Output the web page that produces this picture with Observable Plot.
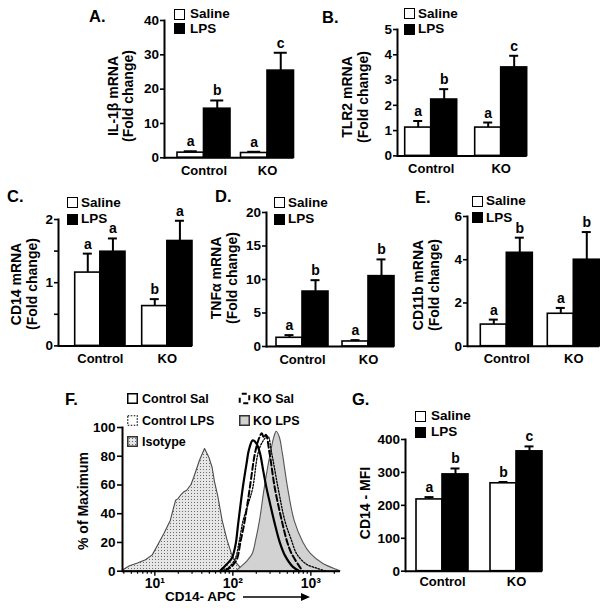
<!DOCTYPE html>
<html><head><meta charset="utf-8">
<script src="https://cdn.jsdelivr.net/npm/d3@7"></script>
<script src="https://cdn.jsdelivr.net/npm/@observablehq/plot@0.6"></script>
<style>
html,body{margin:0;padding:0;background:#fff;}
#fig{position:relative;width:600px;height:611px;overflow:hidden;font-family:"Liberation Sans",Arial,sans-serif;font-weight:bold;color:#000;}
#fig svg.pp{position:absolute;overflow:visible;background:transparent;}
.lbl{position:absolute;white-space:pre;font-weight:bold;line-height:1;}
.sw{position:absolute;box-sizing:border-box;}
</style>
</head><body>
<svg width="0" height="0" style="position:absolute">
 <defs>
  <pattern id="stip" width="3" height="3" patternUnits="userSpaceOnUse">
   <rect width="3" height="3" fill="#e6e6e6"/>
   <rect width="1" height="1" fill="#6a6a6a"/>
  </pattern>
 </defs>
</svg>
<div id="fig"></div>
<script>
// ---------------- DATA ----------------
const groups = ["Control", "KO"];

// A. IL-1β
const il1bSal = [1.5, 1.4], il1bSalSem = [0.4, 0.35];
const il1bLps = [14.3, 25.4], il1bLpsSem = [2.4, 5.2];
const il1bLetters = ["a", "b", "a", "c"];
const il1bTicks = [0, 10, 20, 30, 40];
// B. TLR2
const tlr2Sal = [1.12, 1.12], tlr2SalSem = [0.26, 0.2];
const tlr2Lps = [2.23, 3.5], tlr2LpsSem = [0.41, 0.46];
const tlr2Letters = ["a", "b", "a", "c"];
const tlr2Ticks = [0, 1, 2, 3, 4, 5];
// C. CD14
const cd14Sal = [1.16, 0.63], cd14SalSem = [0.3, 0.11];
const cd14Lps = [1.49, 1.66], cd14LpsSem = [0.21, 0.32];
const cd14Letters = ["a", "a", "b", "a"];
const cd14Ticks = [0, 0.5, 1, 1.5, 2];
const cd14TickLabels = ["0", "", "1", "", "2"];
// D. TNFα
const tnfSal = [1.3, 0.75], tnfSalSem = [0.4, 0.2];
const tnfLps = [8.2, 10.5], tnfLpsSem = [1.7, 2.5];
const tnfLetters = ["a", "b", "a", "b"];
const tnfTicks = [0, 5, 10, 15, 20];
// E. CD11b
const cd11bSal = [1.0, 1.5], cd11bSalSem = [0.23, 0.27];
const cd11bLps = [4.32, 4.0], cd11bLpsSem = [0.7, 1.28];
const cd11bLetters = ["a", "b", "a", "b"];
const cd11bTicks = [0, 2, 4, 6];
// G. CD14 MFI
const mfiSal = [218, 267], mfiSalSem = [7, 4];
const mfiLps = [294, 364], mfiLpsSem = [18, 15];
const mfiLetters = ["a", "b", "b", "c"];
const mfiTicks = [0, 100, 200, 300, 400];

// F. flow histograms (CD14-APC intensity, % of maximum)
const isoX = [3.9, 4.8, 6.2, 7.7, 9.4, 11.3, 13.3, 16, 18.7, 20, 22, 24, 26, 29.5, 32, 38, 44, 50, 55, 59, 65, 74, 85, 97, 110, 123, 135];
const isoY = [0.5, 3.5, 5.5, 7.6, 11, 19, 26, 35, 49, 50, 53, 55, 56, 60, 65, 77, 85, 79, 72, 62, 52, 35, 22, 12, 6, 3, 0];
const ctrlSalX = [68, 84, 97, 108, 117, 134, 151, 160, 180, 200, 223, 245, 270, 300, 345, 400, 465, 590, 720];
const ctrlSalY = [0, 5, 9, 18, 33, 58, 76, 84, 91, 89, 82, 70, 58, 47, 33, 20, 11, 3, 0];
const ctrlLpsX = [68, 85, 106, 120, 135, 158, 180, 210, 240, 280, 315, 380, 465, 560, 660, 870, 1200, 1590];
const ctrlLpsY = [0, 2, 8, 20, 35, 47, 58, 82, 90, 94, 82, 58, 35, 22, 12, 5, 2, 0];
const koSalX = [79, 95, 112, 125, 142, 165, 192, 215, 235, 250, 265, 296, 345, 425, 500, 570, 720, 790];
const koSalY = [0, 3, 8, 20, 35, 58, 82, 92, 96, 93, 95, 82, 58, 35, 20, 12, 3, 0];
const koLpsX = [112, 130, 155, 180, 200, 223, 257, 307, 340, 365, 400, 437, 510, 620, 800, 1000, 1450, 2150, 2400];
const koLpsY = [0, 3, 7, 12, 22, 35, 58, 82, 93, 97, 93, 82, 58, 35, 20, 12, 5, 1, 0];
const flowYTicks = [0, 20, 40, 60, 80, 100];
const flowMajor = [10, 100, 1000];
const flowMajorLabels = ["10¹", "10²", "10³"];
const flowMinor = [4, 5, 6, 7, 8, 9, 20, 30, 40, 50, 60, 70, 80, 90, 200, 300, 400, 500, 600, 700, 800, 900, 2000];

// ---------------- HELPERS ----------------
const fig = document.getElementById("fig");
const FONT = "'Liberation Sans', Arial, Helvetica, sans-serif";
const NS = "http://www.w3.org/2000/svg";

function place(svg, left, top) {
  svg.classList.add("pp");
  svg.style.left = left + "px";
  svg.style.top = top + "px";
  fig.appendChild(svg);
}
function addText(txt, x, y, size = 13) {
  const d = document.createElement("div");
  d.className = "lbl";
  d.textContent = txt;
  d.style.left = x + "px";
  d.style.top = y + "px";
  d.style.fontSize = size + "px";
  d.style.transform = "translateY(-50%)";
  fig.appendChild(d);
  return d;
}
function addVLabel(lines, cx, cy, size = 14, lh = 16) {
  const d = document.createElement("div");
  d.className = "lbl";
  d.textContent = lines.join("\n");
  d.style.left = cx + "px";
  d.style.top = cy + "px";
  d.style.fontSize = size + "px";
  d.style.lineHeight = lh + "px";
  d.style.textAlign = "center";
  d.style.transform = "translate(-50%,-50%) rotate(-90deg)";
  fig.appendChild(d);
}
function addSwatch(x, y, size, css) {
  const d = document.createElement("div");
  d.className = "sw";
  d.style.left = x + "px";
  d.style.top = y + "px";
  d.style.width = size + "px";
  d.style.height = size + "px";
  Object.assign(d.style, css);
  fig.appendChild(d);
}
function addSvgSwatch(x, y, size, attrs) {
  const s = document.createElementNS(NS, "svg");
  s.setAttribute("width", size + 2); s.setAttribute("height", size + 2);
  s.style.position = "absolute"; s.style.left = (x - 1) + "px"; s.style.top = (y - 1) + "px";
  const r = document.createElementNS(NS, "rect");
  r.setAttribute("x", 1.75); r.setAttribute("y", 1.75);
  r.setAttribute("width", size - 1.5); r.setAttribute("height", size - 1.5);
  for (const k in attrs) r.setAttribute(k, attrs[k]);
  s.appendChild(r);
  fig.appendChild(s);
}
function barLegend(sx, y1, y2, tx) {
  addSwatch(sx, y1 - 5.5, 11, {border: "1.5px solid #000", background: "#fff"});
  addSwatch(sx, y2 - 5.5, 11, {border: "1.5px solid #000", background: "#000"});
  addText("Saline", tx, y1, 13.5);
  addText("LPS", tx, y2, 13.5);
}

function barPanel(g, sal, salSem, lps, lpsSem, letters, ticks, tickLabels) {
  const mL = 40, mT = 12, mR = 4, mB = 26;
  const left = g.axisX - mL, top = g.yTop - mT;
  const width = g.endX - left + mR, height = g.y0 - top + mB;
  const bw = g.endX - g.k0;
  const step = g.k0 - g.c0;
  const R = g.endX - g.axisX;
  const pi = (step - bw) / step;
  const po = (R / step - 2 + pi) / 2;
  const rows = [];
  groups.forEach((grp, i) => {
    rows.push({group: grp, trt: "Saline", v: sal[i], e: salSem[i], letter: letters[2 * i]});
    rows.push({group: grp, trt: "LPS", v: lps[i], e: lpsSem[i], letter: letters[2 * i + 1]});
  });
  const S = rows.filter(r => r.trt === "Saline");
  const L = rows.filter(r => r.trt === "LPS");
  const cap = g.cap || 9;
  const err = (data, sign) => [
    Plot.ruleX(data, {x: "group", y1: "v", y2: r => r.v + r.e, dx: sign * bw / 4, stroke: "#000", strokeWidth: 2}),
    Plot.tickY(data, {x: "group", y: r => r.v + r.e,
      insetLeft: sign < 0 ? bw / 4 - cap / 2 : 3 * bw / 4 - cap / 2,
      insetRight: sign < 0 ? 3 * bw / 4 - cap / 2 : bw / 4 - cap / 2,
      stroke: "#000", strokeWidth: 2}),
    Plot.text(data, {x: "group", y: r => r.v + r.e, text: "letter", dx: sign * bw / 4, dy: -5,
      lineAnchor: "bottom", fontSize: 14, fontWeight: "bold"})
  ];
  const svg = Plot.plot({
    width, height,
    marginLeft: mL, marginTop: mT, marginRight: mR, marginBottom: mB,
    style: {fontFamily: FONT, fontSize: "13px", fontWeight: "bold", background: "transparent", overflow: "visible"},
    x: {type: "band", domain: groups, paddingInner: pi, paddingOuter: po, align: 1, round: false, label: null},
    y: {domain: [0, g.ymax], label: null},
    marks: [
      Plot.barY(S, {x: "group", y: "v", fill: "#fff", stroke: "#000", strokeWidth: 1.6, insetRight: bw / 2}),
      Plot.barY(L, {x: "group", y: "v", fill: "#000", stroke: "#000", strokeWidth: 1.6, insetLeft: bw / 2}),
      ...err(S, -1),
      ...err(L, 1),
      Plot.ruleY([0], {stroke: "#000", strokeWidth: 2}),
      Plot.frame({anchor: "left", stroke: "#000", strokeWidth: 2}),
      Plot.axisY({ticks, tickSize: 4, tickPadding: 1.5, strokeWidth: 1.6,
        tickFormat: tickLabels ? (d => tickLabels[ticks.indexOf(d)]) : (d => String(d)),
        fontSize: 13.5, fontWeight: "bold", label: null}),
      Plot.axisX({tickSize: 0, tickPadding: g.catPad || 8, fontSize: 13, fontWeight: "bold", label: null})
    ]
  });
  place(svg, left, top);
}

// ---------------- PANELS ----------------
barPanel({axisX: 164, endX: 293.5, c0: 177, k0: 240.5, y0: 157.3, yTop: 20, ymax: 40, cap: 13},
  il1bSal, il1bSalSem, il1bLps, il1bLpsSem, il1bLetters, il1bTicks);
barPanel({axisX: 397.3, endX: 527, c0: 405, k0: 475, y0: 155.7, yTop: 29.3, ymax: 5},
  tlr2Sal, tlr2SalSem, tlr2Lps, tlr2LpsSem, tlr2Letters, tlr2Ticks);
barPanel({axisX: 58.3, endX: 192.3, c0: 75, k0: 142, y0: 345.7, yTop: 219.3, ymax: 2},
  cd14Sal, cd14SalSem, cd14Lps, cd14LpsSem, cd14Letters, cd14Ticks, cd14TickLabels);
barPanel({axisX: 266, endX: 394, c0: 276, k0: 342, y0: 345.7, yTop: 211.7, ymax: 20},
  tnfSal, tnfSalSem, tnfLps, tnfLpsSem, tnfLetters, tnfTicks);
barPanel({axisX: 466.7, endX: 599, c0: 480, k0: 547, y0: 345.7, yTop: 216, ymax: 6},
  cd11bSal, cd11bSalSem, cd11bLps, cd11bLpsSem, cd11bLetters, cd11bTicks);
barPanel({axisX: 405, endX: 542, c0: 416, k0: 490, y0: 570.7, yTop: 439, ymax: 400, catPad: 6},
  mfiSal, mfiSalSem, mfiLps, mfiLpsSem, mfiLetters, mfiTicks);

// F histogram panel
(function () {
  const axisX = 122, endX = 340, y0 = 571, yTop = 427.3;
  const mL = 45, mT = 12, mR = 8, mB = 40;
  const left = axisX - mL, top = yTop - mT;
  const series = (xs, ys) => xs.map((x, i) => ({x, y: ys[i]}));
  const iso = series(isoX, isoY), cs = series(ctrlSalX, ctrlSalY), cl = series(ctrlLpsX, ctrlLpsY);
  const ks = series(koSalX, koSalY), kl = series(koLpsX, koLpsY);
  const svg = Plot.plot({
    width: endX - left + mR, height: y0 - top + mB,
    marginLeft: mL, marginTop: mT, marginRight: mR, marginBottom: mB,
    style: {fontFamily: FONT, fontSize: "13px", fontWeight: "bold", background: "transparent", overflow: "visible"},
    x: {type: "log", domain: [3.85, 2400], label: null},
    y: {domain: [0, 100], label: null},
    marks: [
      Plot.areaY(iso, {x: "x", y: "y", fill: "url(#stip)", stroke: "#4a4a4a", strokeWidth: 1.1}),
      Plot.areaY(kl, {x: "x", y: "y", fill: "#d2d2d2", stroke: "#555", strokeWidth: 1.1, curve: "catmull-rom"}),
      Plot.lineY(ks, {x: "x", y: "y", stroke: "#000", strokeWidth: 2, strokeDasharray: "6,3", curve: "catmull-rom"}),
      Plot.lineY(cl, {x: "x", y: "y", stroke: "#000", strokeWidth: 1.3, strokeDasharray: "1.6,1.6", curve: "catmull-rom"}),
      Plot.lineY(cs, {x: "x", y: "y", stroke: "#000", strokeWidth: 2.2, curve: "catmull-rom"}),
      Plot.ruleY([0], {stroke: "#000", strokeWidth: 2}),
      Plot.frame({anchor: "left", stroke: "#000", strokeWidth: 2}),
      Plot.axisY({ticks: flowYTicks, tickSize: 5, tickPadding: 2, strokeWidth: 1.6, fontSize: 13.5, fontWeight: "bold", label: null}),
      Plot.axisX({ticks: flowMajor, tickSize: 5, tickPadding: 2, strokeWidth: 1.4,
        tickFormat: d => flowMajorLabels[flowMajor.indexOf(d)], fontSize: 14, fontWeight: "bold", label: null}),
      Plot.axisX({ticks: flowMinor, tickSize: 3, tickFormat: () => "", strokeWidth: 1.2, label: null})
    ]
  });
  place(svg, left, top);
})();

// ---------------- TEXT / LEGENDS ----------------
[["A.", 89, 16], ["B.", 322, 17], ["C.", 7, 196], ["D.", 215, 196], ["E.", 415, 197], ["F.", 65, 399], ["G.", 352, 399]]
  .forEach(([t, x, y]) => addText(t, x, y, 16.5));

addVLabel(["IL-1β mRNA", "(Fold change)"], 120.5, 96, 14, 15);
addVLabel(["TLR2 mRNA", "(Fold change)"], 355, 97, 14, 16);
addVLabel(["CD14 mRNA", "(Fold change)"], 24, 284, 14, 16);
addVLabel(["TNFα mRNA", "(Fold change)"], 224, 278, 14, 16);
addVLabel(["CD11b mRNA", "(Fold change)"], 426, 285, 14, 16);
addVLabel(["% of Maximum"], 83, 501, 14, 16);
addVLabel(["CD14 - MFI"], 365, 503, 14, 16);

barLegend(174, 14, 28.5, 190);
barLegend(404, 13.5, 29, 418);
barLegend(67, 202.5, 219, 81);
barLegend(274, 202.5, 219, 288);
barLegend(472, 201, 217.5, 486);
barLegend(415, 416, 432, 431);

// F legend
addSvgSwatch(127, 393, 11, {fill: "#fff", stroke: "#000", "stroke-width": 1.5});
addText("Control Sal", 142, 398.5, 12.5);
addSvgSwatch(127, 415, 11, {fill: "#fff", stroke: "#000", "stroke-width": 1.2, "stroke-dasharray": "1.5,1.5"});
addText("Control LPS", 142, 420.5, 12.5);
addSvgSwatch(127, 436, 11, {fill: "url(#stip)", stroke: "#333", "stroke-width": 1.5});
addText("Isotype", 142, 441.5, 12.5);
addSvgSwatch(238.5, 393, 11, {fill: "#fff", stroke: "#000", "stroke-width": 2, "stroke-dasharray": "5,4", "stroke-dashoffset": "-2"});
addText("KO Sal", 253, 398.5, 12.5);
addSvgSwatch(238.5, 415, 11, {fill: "#d2d2d2", stroke: "#333", "stroke-width": 1.5});
addText("KO LPS", 253, 420.5, 12.5);

// F x label with arrow
addText("CD14- APC", 165, 597, 13.5);
(function () {
  const s = document.createElementNS(NS, "svg");
  s.setAttribute("width", 70); s.setAttribute("height", 10);
  s.style.position = "absolute"; s.style.left = "243px"; s.style.top = "592px";
  const ln = document.createElementNS(NS, "line");
  ln.setAttribute("x1", 0); ln.setAttribute("y1", 5); ln.setAttribute("x2", 60); ln.setAttribute("y2", 5);
  ln.setAttribute("stroke", "#000"); ln.setAttribute("stroke-width", 1.6);
  const p = document.createElementNS(NS, "path");
  p.setAttribute("d", "M58,1 L67,5 L58,9 Z"); p.setAttribute("fill", "#000");
  s.appendChild(ln); s.appendChild(p);
  fig.appendChild(s);
})();
</script>
</body></html>
